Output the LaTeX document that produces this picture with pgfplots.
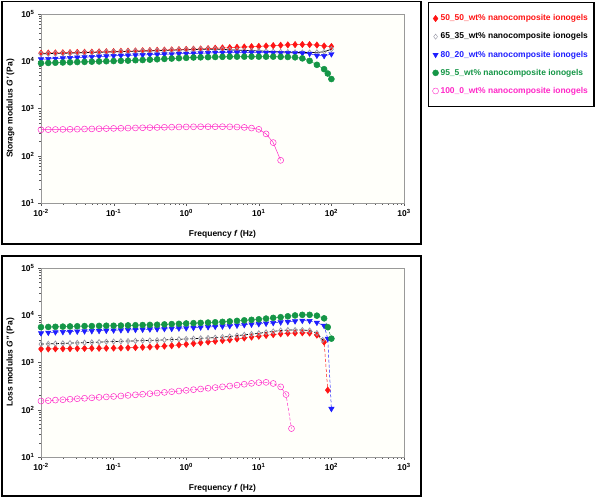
\documentclass[border=0pt]{standalone}
\usepackage{pgfplots}
\pgfplotsset{compat=1.18}
\usepackage{pgfplotstable}
\usepackage{fontspec}
\setmainfont{Liberation Sans}
\definecolor{cRed}{RGB}{255,20,20}
\definecolor{cBlue}{RGB}{30,30,255}
\definecolor{cGreen}{RGB}{20,150,70}
\definecolor{cPink}{RGB}{255,40,200}
\definecolor{cGray}{RGB}{150,150,165}

% ---------- Storage modulus G' ----------
\pgfplotstableread{
f v
0.01 14800
0.0126 14900
0.0158 15000
0.02 15100
0.0251 15200
0.0316 15400
0.0398 15500
0.0501 15600
0.0631 15800
0.0794 15900
0.1 16000
0.126 16200
0.158 16300
0.2 16500
0.251 16700
0.316 16800
0.398 17000
0.501 17200
0.631 17400
0.794 17600
1 17800
1.26 18000
1.58 18200
2 18500
2.51 18800
3.16 19100
3.98 19400
5.01 19700
6.31 20000
7.94 20300
10 20600
12.6 21000
15.8 21400
20 21800
25.1 22200
31.6 22500
39.8 22600
50.1 22500
63.1 22000
79.4 21000
100 20500
}\topA
\pgfplotstableread{
f v
0.01 14300
0.0126 14450
0.0158 14600
0.02 14750
0.0251 14900
0.0316 15050
0.0398 15200
0.0501 15350
0.0631 15500
0.0794 15650
0.1 15800
0.126 15950
0.158 16100
0.2 16250
0.251 16400
0.316 16550
0.398 16700
0.501 16900
0.631 17100
0.794 17300
1 17500
1.26 17700
1.58 17900
2 18000
2.51 18000
3.16 17800
3.98 17500
5.01 17200
6.31 16900
7.94 16700
10 16500
12.6 16300
15.8 16000
20 15800
25.1 15600
31.6 15400
39.8 15300
50.1 15300
63.1 15400
79.4 15800
100 18000
}\topB
\pgfplotstableread{
f v
0.01 11000
0.0126 11200
0.0158 11400
0.02 11600
0.0251 11800
0.0316 12000
0.0398 12200
0.0501 12400
0.0631 12600
0.0794 12800
0.1 13000
0.126 13200
0.158 13300
0.2 13500
0.251 13600
0.316 13800
0.398 13900
0.501 14100
0.631 14200
0.794 14400
1 14500
1.26 14700
1.58 14800
2 15000
2.51 15200
3.16 15200
3.98 15300
5.01 15300
6.31 15300
7.94 15300
10 15200
12.6 15200
15.8 15100
20 15000
25.1 15000
31.6 14900
39.8 14800
50.1 14500
63.1 13200
79.4 13000
100 14200
}\topC
\pgfplotstableread{
f v
0.01 9100
0.0126 9200
0.0158 9300
0.02 9400
0.0251 9500
0.0316 9600
0.0398 9700
0.0501 9800
0.0631 9900
0.0794 10000
0.1 10100
0.126 10200
0.158 10300
0.2 10500
0.251 10600
0.316 10800
0.398 11000
0.501 11200
0.631 11400
0.794 11600
1 11800
1.26 12000
1.58 12100
2 12200
2.51 12300
3.16 12400
3.98 12500
5.01 12500
6.31 12500
7.94 12500
10 12500
12.6 12500
15.8 12500
20 12400
25.1 12300
31.6 12100
39.8 11500
50.1 10200
63.1 8400
79.4 6800
89.1 5500
100 4200
}\topD
\pgfplotstableread{
f v
0.01 355
0.0126 357
0.0158 359
0.02 361
0.0251 363
0.0316 365
0.0398 368
0.0501 370
0.0631 373
0.0794 376
0.1 379
0.126 382
0.158 385
0.2 388
0.251 391
0.316 394
0.398 397
0.501 400
0.631 403
0.794 406
1 408
1.26 410
1.58 411
2 412
2.51 412
3.16 412
3.98 410
5.01 405
6.31 398
7.94 385
10 362
12.6 290
15.8 190
20 80
}\topE

% ---------- Loss modulus G'' ----------
\pgfplotstableread{
f v
0.01 1930
0.0126 1940
0.0158 1950
0.02 1960
0.0251 1970
0.0316 1980
0.0398 1990
0.0501 2000
0.0631 2000
0.0794 2010
0.1 2020
0.126 2030
0.158 2050
0.2 2070
0.251 2100
0.316 2130
0.398 2170
0.501 2220
0.631 2270
0.794 2350
1 2430
1.26 2520
1.58 2620
2 2720
2.51 2820
3.16 2920
3.98 3020
5.01 3150
6.31 3300
7.94 3450
10 3600
12.6 3750
15.8 3900
20 4050
25.1 4150
31.6 4200
39.8 4250
50.1 4200
63.1 3800
79.4 2700
89.1 260
}\botA
\pgfplotstableread{
f v
0.01 2450
0.0126 2480
0.0158 2510
0.02 2540
0.0251 2570
0.0316 2600
0.0398 2630
0.0501 2670
0.0631 2700
0.0794 2750
0.1 2780
0.126 2810
0.158 2840
0.2 2870
0.251 2900
0.316 2930
0.398 2960
0.501 3000
0.631 3050
0.794 3100
1 3150
1.26 3200
1.58 3250
2 3300
2.51 3350
3.16 3450
3.98 3550
5.01 3700
6.31 3850
7.94 4000
10 4150
12.6 4350
15.8 4550
20 4750
25.1 4850
31.6 4850
39.8 4850
50.1 4750
63.1 4200
76 3000
}\botB
\pgfplotstableread{
f v
0.01 4200
0.0126 4300
0.0158 4400
0.02 4450
0.0251 4500
0.0316 4550
0.0398 4600
0.0501 4650
0.0631 4700
0.0794 4750
0.1 4800
0.126 4850
0.158 4900
0.2 4950
0.251 5000
0.316 5050
0.398 5100
0.501 5150
0.631 5200
0.794 5300
1 5350
1.26 5450
1.58 5550
2 5650
2.51 5750
3.16 5850
3.98 5950
5.01 6100
6.31 6250
7.94 6400
10 6550
12.6 6700
15.8 6900
20 7100
25.1 7300
31.6 7500
39.8 7700
50.1 7600
63.1 7000
79.4 6000
89.1 3200
100 105
}\botC
\pgfplotstableread{
f v
0.01 5600
0.0126 5650
0.0158 5700
0.02 5750
0.0251 5800
0.0316 5850
0.0398 5900
0.0501 5900
0.0631 5950
0.0794 6000
0.1 6000
0.126 6050
0.158 6100
0.2 6150
0.251 6200
0.316 6250
0.398 6300
0.501 6400
0.631 6500
0.794 6600
1 6700
1.26 6800
1.58 6900
2 7000
2.51 7100
3.16 7250
3.98 7400
5.01 7600
6.31 7800
7.94 8000
10 8200
12.6 8500
15.8 8800
20 9100
25.1 9500
31.6 9900
39.8 10200
50.1 10200
63.1 9800
79.4 8600
89.1 5600
100 3200
}\botD
\pgfplotstableread{
f v
0.01 153
0.0126 156
0.0158 160
0.02 163
0.0251 167
0.0316 171
0.0398 175
0.0501 179
0.0631 183
0.0794 187
0.1 191
0.126 196
0.158 201
0.2 207
0.251 213
0.316 219
0.398 226
0.501 233
0.631 241
0.794 249
1 257
1.26 266
1.58 275
2 285
2.51 295
3.16 306
3.98 318
5.01 332
6.31 347
7.94 362
10 375
12.6 380
15.8 360
20 305
23.7 210
28.2 40
}\botE

\newcommand{\lblfont}{\bfseries\fontsize{8.5}{10}\selectfont}
\tikzset{
  sA/.style={cRed, line width=0.5pt, mark=diamond*, mark size=3.2pt, mark options={solid,fill=cRed}},
  sB/.style={black, line width=0.7pt, mark=diamond, mark size=2.6pt, mark options={solid,draw=cGray,fill=white}},
  sC/.style={cBlue, line width=0.5pt, mark=triangle*, mark size=3.1pt, mark options={solid,rotate=180,fill=cBlue}},
  sD/.style={cGreen, line width=0.5pt, mark=*, mark size=3.0pt, mark options={solid,fill=cGreen}},
  sE/.style={cPink, line width=0.5pt, mark=o, mark size=3.0pt, mark options={solid}},
}

\begin{document}
\begin{tikzpicture}
\useasboundingbox (0,0) rectangle (600bp,499bp);
\draw[line width=1.3pt] (2bp,497.5bp) rectangle (421bp,255bp);
\draw[line width=1.3pt] (2bp,243bp) rectangle (421bp,3bp);

\begin{axis}[at={(41bp,296bp)}, anchor=south west,
    xmode=log, ymode=log, scale only axis,
    width=363bp, height=189bp,
    xmin=0.01, xmax=1000, ymin=10, ymax=100000,
    axis line style={gray!80},
    tick align=outside, xtick pos=bottom, ytick pos=left,
    tick style={gray!70!black},
    major tick length=3bp, minor tick length=2bp,
    xtick={0.01,0.1,1,10,100,1000},
    xticklabels={10\textsuperscript{-2},10\textsuperscript{-1},10\textsuperscript{0},10\textsuperscript{1},10\textsuperscript{2},10\textsuperscript{3}},
    ytick={10,100,1000,10000,100000},
    yticklabels={10\textsuperscript{1},10\textsuperscript{2},10\textsuperscript{3},10\textsuperscript{4},10\textsuperscript{5}},
    tick label style={font=\lblfont},
    label style={font=\lblfont},
    xlabel style={yshift=-7bp},
    ylabel style={yshift=0bp},
    axis background/.style={fill=yellow!2},
  ylabel={Storage modulus \textit{G'} (Pa)},
  xlabel={Frequency \textit{f} (Hz)},
  legend image code/.code={\draw[#1,line width=0.4pt] plot[only marks] coordinates {(0.15cm,0cm)};},
  legend style={at={(rel axis cs:1.066,1.063)}, anchor=north west,
    draw=black, line width=1.3pt, font=\lblfont, row sep=6.5bp,
    inner xsep=4bp, inner ysep=10bp, cells={anchor=west}},
]
\addplot[sA] table[x=f,y=v]{\topA};
\addlegendentry{\textcolor{cRed}{50\_50\_wt\% nanocomposite ionogels}}
\addplot[sB] table[x=f,y=v]{\topB};
\addlegendentry{\textcolor{black}{65\_35\_wt\% nanocomposite ionogels}}
\addplot[sC] table[x=f,y=v]{\topC};
\addlegendentry{\textcolor{cBlue}{80\_20\_wt\% nanocomposite ionogels}}
\addplot[sD] table[x=f,y=v]{\topD};
\addlegendentry{\textcolor{cGreen}{95\_5\_wt\% nanocomposite ionogels}}
\addplot[sE] table[x=f,y=v]{\topE};
\addlegendentry{\textcolor{cPink}{100\_0\_wt\% nanocomposite ionogels}}
\end{axis}

\begin{axis}[at={(41bp,42bp)}, anchor=south west,
    xmode=log, ymode=log, scale only axis,
    width=363bp, height=189bp,
    xmin=0.01, xmax=1000, ymin=10, ymax=100000,
    axis line style={gray!80},
    tick align=outside, xtick pos=bottom, ytick pos=left,
    tick style={gray!70!black},
    major tick length=3bp, minor tick length=2bp,
    xtick={0.01,0.1,1,10,100,1000},
    xticklabels={10\textsuperscript{-2},10\textsuperscript{-1},10\textsuperscript{0},10\textsuperscript{1},10\textsuperscript{2},10\textsuperscript{3}},
    ytick={10,100,1000,10000,100000},
    yticklabels={10\textsuperscript{1},10\textsuperscript{2},10\textsuperscript{3},10\textsuperscript{4},10\textsuperscript{5}},
    tick label style={font=\lblfont},
    label style={font=\lblfont},
    xlabel style={yshift=-7bp},
    ylabel style={yshift=0bp},
    axis background/.style={fill=yellow!2},
  ylabel={Loss modulus \textit{G''} (Pa)},
  xlabel={Frequency \textit{f} (Hz)},
]
\addplot[sA, densely dashed] table[x=f,y=v]{\botA};
\addplot[sB, densely dashed] table[x=f,y=v]{\botB};
\addplot[sC, densely dashed] table[x=f,y=v]{\botC};
\addplot[sD, densely dashed] table[x=f,y=v]{\botD};
\addplot[sE, densely dashed] table[x=f,y=v]{\botE};
\end{axis}
\end{tikzpicture}
\end{document}
